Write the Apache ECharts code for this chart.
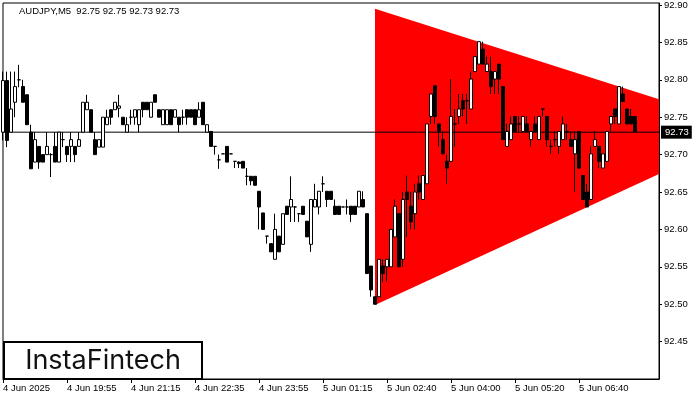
<!DOCTYPE html>
<html><head><meta charset="utf-8">
<script src="https://cdn.jsdelivr.net/npm/echarts@6/dist/echarts.min.js"></script>
<style>html,body{margin:0;padding:0;background:#fff}#c{width:700px;height:400px}</style>
</head><body><div id="c"></div>
<script>
const header = 'AUDJPY,M5  92.75 92.75 92.73 92.73';
const opens = [92.730,92.799,92.730,92.770,92.800,92.791,92.780,92.730,92.690,92.711,
92.700,92.700,92.700,92.711,92.690,92.720,92.711,92.711,92.711,92.711,
92.730,92.760,92.760,92.720,92.710,92.710,92.740,92.760,92.760,92.762,
92.750,92.730,92.750,92.750,92.740,92.770,92.770,92.750,92.780,92.760,
92.740,92.740,92.760,92.750,92.750,92.750,92.760,92.760,92.760,92.750,
92.770,92.730,92.731,92.711,92.693,92.701,92.711,92.701,92.691,92.690,
92.691,92.671,92.671,92.671,92.651,92.622,92.591,92.581,92.560,92.591,
92.580,92.631,92.630,92.630,92.621,92.631,92.611,92.580,92.630,92.630,
92.661,92.651,92.651,92.631,92.631,92.630,92.630,92.631,92.631,92.630,
92.640,92.621,92.551,92.510,92.510,92.551,92.550,92.550,92.590,92.621,
92.560,92.650,92.631,92.621,92.661,92.640,92.661,92.751,92.792,92.741,
92.720,92.691,92.691,92.741,92.751,92.772,92.772,92.761,92.811,92.821,
92.841,92.811,92.811,92.801,92.821,92.791,92.711,92.720,92.751,92.741,
92.731,92.741,92.720,92.741,92.720,92.761,92.751,92.711,92.720,92.711,
92.720,92.731,92.720,92.701,92.731,92.672,92.650,92.640,92.711,92.711,
92.682,92.691,92.741,92.761,92.741,92.781,92.761,92.751,92.751];
const highs = [92.811,92.811,92.811,92.811,92.820,92.800,92.780,92.740,92.730,92.711,
92.700,92.730,92.702,92.730,92.730,92.730,92.711,92.730,92.711,92.730,
92.770,92.780,92.760,92.730,92.720,92.750,92.760,92.760,92.770,92.780,
92.750,92.750,92.760,92.760,92.760,92.770,92.770,92.770,92.780,92.760,
92.760,92.760,92.760,92.760,92.750,92.760,92.760,92.760,92.760,92.770,
92.770,92.740,92.731,92.711,92.700,92.701,92.711,92.701,92.691,92.691,
92.691,92.682,92.671,92.671,92.651,92.622,92.591,92.581,92.621,92.591,
92.621,92.631,92.671,92.631,92.621,92.631,92.611,92.640,92.661,92.651,
92.671,92.651,92.651,92.640,92.631,92.630,92.640,92.631,92.631,92.651,
92.651,92.621,92.551,92.510,92.560,92.560,92.560,92.600,92.640,92.621,
92.650,92.672,92.650,92.661,92.672,92.672,92.741,92.781,92.792,92.741,
92.731,92.700,92.801,92.761,92.781,92.781,92.781,92.811,92.831,92.851,
92.851,92.831,92.831,92.811,92.821,92.791,92.741,92.751,92.751,92.751,
92.751,92.751,92.731,92.751,92.751,92.761,92.751,92.720,92.731,92.731,
92.751,92.741,92.731,92.731,92.731,92.672,92.661,92.711,92.731,92.711,
92.701,92.731,92.751,92.761,92.791,92.791,92.761,92.761,92.751];
const lows = [92.719,92.710,92.730,92.750,92.790,92.770,92.740,92.681,92.690,92.681,
92.690,92.700,92.670,92.690,92.690,92.710,92.690,92.690,92.690,92.711,
92.730,92.760,92.730,92.700,92.710,92.710,92.740,92.740,92.760,92.750,
92.740,92.730,92.740,92.740,92.730,92.750,92.760,92.750,92.770,92.750,
92.740,92.740,92.740,92.750,92.730,92.740,92.740,92.750,92.740,92.750,
92.740,92.730,92.711,92.700,92.681,92.701,92.690,92.701,92.682,92.682,
92.682,92.659,92.659,92.659,92.600,92.600,92.581,92.570,92.560,92.570,
92.580,92.620,92.610,92.610,92.610,92.620,92.590,92.570,92.630,92.620,
92.650,92.630,92.640,92.620,92.620,92.630,92.620,92.610,92.620,92.630,
92.630,92.541,92.510,92.500,92.510,92.530,92.530,92.550,92.590,92.550,
92.550,92.590,92.600,92.600,92.640,92.640,92.661,92.741,92.741,92.711,
92.701,92.661,92.691,92.711,92.741,92.751,92.741,92.761,92.811,92.821,
92.821,92.811,92.781,92.781,92.781,92.720,92.711,92.720,92.731,92.731,
92.731,92.731,92.711,92.731,92.720,92.751,92.711,92.701,92.711,92.701,
92.720,92.720,92.711,92.650,92.682,92.640,92.630,92.640,92.711,92.682,
92.682,92.691,92.731,92.741,92.741,92.771,92.741,92.741,92.731];
const closes = [92.799,92.719,92.761,92.791,92.800,92.770,92.740,92.681,92.720,92.690,
92.690,92.711,92.700,92.690,92.730,92.720,92.700,92.720,92.700,92.720,
92.770,92.770,92.730,92.700,92.720,92.750,92.750,92.750,92.770,92.765,
92.740,92.740,92.750,92.760,92.760,92.760,92.760,92.770,92.770,92.750,
92.760,92.760,92.740,92.760,92.740,92.750,92.750,92.750,92.740,92.760,
92.740,92.740,92.711,92.711,92.693,92.701,92.690,92.701,92.691,92.688,
92.682,92.671,92.665,92.659,92.630,92.600,92.591,92.570,92.600,92.570,
92.621,92.620,92.640,92.630,92.621,92.620,92.590,92.640,92.640,92.651,
92.661,92.640,92.640,92.620,92.620,92.630,92.630,92.620,92.620,92.651,
92.630,92.541,92.519,92.500,92.560,92.541,92.560,92.600,92.631,92.550,
92.640,92.640,92.610,92.650,92.650,92.672,92.741,92.781,92.751,92.731,
92.701,92.682,92.751,92.741,92.761,92.761,92.772,92.801,92.831,92.851,
92.821,92.821,92.791,92.811,92.801,92.720,92.731,92.741,92.731,92.741,
92.751,92.731,92.731,92.731,92.751,92.761,92.720,92.711,92.720,92.731,
92.741,92.731,92.711,92.720,92.682,92.640,92.630,92.701,92.720,92.691,
92.701,92.731,92.751,92.751,92.791,92.771,92.741,92.741,92.731];
const slotCount = 165;
const tickIndex = [0,16,32,48,64,80,96,112,128,144];
const tickText = ['4 Jun 2025','4 Jun 19:55','4 Jun 21:15','4 Jun 22:35','4 Jun 23:55','5 Jun 01:15','5 Jun 02:40','5 Jun 04:00','5 Jun 05:20','5 Jun 06:40'];
const priceMin = 92.40, priceMax = 92.9027, priceStep = 0.05;
const lastPrice = 92.73;
const triangleX = [93, 164];
const triangleTop = [92.895, 92.774];
const triangleBottom = [92.499, 92.674];
const logoText = 'InstaFintech';

const FONT = '"Liberation Sans", Arial, sans-serif';
const slots = Array.from({length: slotCount}, (_, i) => String(i));
const candles = opens.map((o, i) => [o, closes[i], lows[i], highs[i]]);
const isTick = (i) => tickIndex.indexOf(i) >= 0;

const chart = echarts.init(document.getElementById('c'), null, {renderer: 'canvas'});
chart.setOption({
  animation: false,
  backgroundColor: '#fff',
  grid: {left: 3, right: 41, top: 3, bottom: 21, show: true, borderColor: '#000', borderWidth: 1, backgroundColor: '#fff'},
  xAxis: {
    type: 'category', data: slots, boundaryGap: false,
    axisLine: {show: true, lineStyle: {color: '#000', width: 1}},
    axisTick: {show: true, length: 4, interval: (i) => isTick(i), lineStyle: {color: '#000'}},
    axisLabel: {
      interval: (i) => isTick(i), align: 'left', margin: 4,
      formatter: (v, i) => { const k = tickIndex.indexOf(Number(v)); return k >= 0 ? tickText[k] : ''; },
      color: '#000', fontSize: 9.5, fontFamily: FONT
    },
    splitLine: {show: false}
  },
  yAxis: {
    type: 'value', position: 'right', min: priceMin, max: priceMax, interval: priceStep,
    axisLine: {show: true, lineStyle: {color: '#000'}},
    axisTick: {show: true, length: 3, lineStyle: {color: '#000'}},
    axisLabel: {showMinLabel: false, showMaxLabel: false, margin: 5, color: '#000', fontSize: 9.5, fontFamily: FONT,
      formatter: (v) => v.toFixed(2)},
    splitLine: {show: false}
  },
  graphic: [
    {type: 'text', left: 19, top: 6, z: 100, style: {text: header, font: '9.5px ' + FONT, fill: '#000'}},
    {type: 'group', left: 3, top: 341, z: 100, children: [
      {type: 'rect', shape: {x: 0, y: 0, width: 198, height: 37}, style: {fill: '#fff', stroke: '#000', lineWidth: 2}},
      {type: 'text', x: 99, y: 19, style: {text: logoText, font: '400 27px Inter, "Noto Sans", sans-serif', fill: '#111', align: 'center', verticalAlign: 'middle'}}
    ]}
  ],
  series: [
    {
      type: 'custom', z: 1, silent: true, clip: true,
      encode: {x: [0, 3], y: [1, 2, 4, 5]},
      data: [[triangleX[0], triangleTop[0], triangleBottom[0], triangleX[1], triangleTop[1], triangleBottom[1]]],
      renderItem: (params, api) => {
        const a = api.coord([api.value(0), api.value(1)]);
        const b = api.coord([api.value(3), api.value(4)]);
        const c = api.coord([api.value(3), api.value(5)]);
        const d = api.coord([api.value(0), api.value(2)]);
        return {type: 'polygon', shape: {points: [a, b, c, d]}, style: {fill: '#ff0000'}};
      }
    },
    {
      type: 'line', z: 2, silent: true, symbol: 'none',
      data: [[0, lastPrice], [slotCount - 1, lastPrice]],
      lineStyle: {color: '#000', width: 1},
      endLabel: {show: true, formatter: () => lastPrice.toFixed(2), color: '#fff', backgroundColor: '#000',
        padding: [2, 3, 1, 4], fontSize: 9.5, fontFamily: FONT, distance: 2}
    },
    {
      type: 'candlestick', z: 3, silent: true, barWidth: 3, clip: true,
      data: candles,
      itemStyle: {color: '#fff', color0: '#000', borderColor: '#000', borderColor0: '#000', borderColorDoji: '#000', borderWidth: 1}
    }
  ]
});
</script></body></html>
